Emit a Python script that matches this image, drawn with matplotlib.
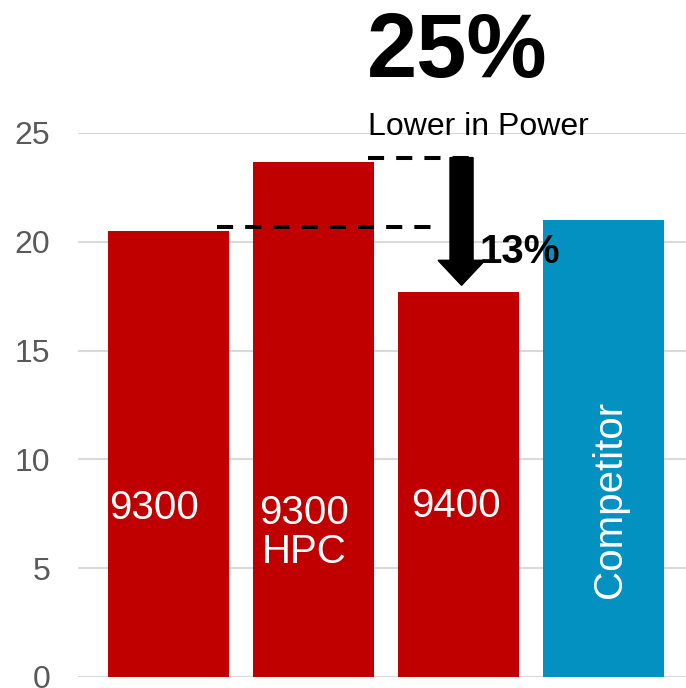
#Power comparison bar chart

#Importing the libraries
import numpy as np
import matplotlib
matplotlib.use('Agg')
import matplotlib.pyplot as plt

plt.rcParams['font.family'] = ['Liberation Sans', 'DejaVu Sans']

#Data
names = ['9300', '9300\nHPC', '9400', 'Competitor']
power = [20.5, 23.67, 17.7, 21.0]
colors = ['#c00000', '#c00000', '#c00000', '#0391c1']
label_y = [7.75, 6.65, 7.85, 8.15]
label_dx = [-0.10, -0.066, -0.017, 0.045]
label_rot = [0, 0, 0, 90]
yticks = [0, 5, 10, 15, 20, 25]

fig = plt.figure(figsize=(6.86, 6.88), dpi=100)
ax = fig.add_axes([78/686, 11/688, 608/686, 544/688])

x = np.arange(len(names))
ax.bar(x, power, width=0.834, color=colors, zorder=2)

#Labels inside the bars
for i in range(len(names)):
    ax.text(x[i] + label_dx[i], label_y[i], names[i], color='white', fontsize=29,
            ha='center', va='center', rotation=label_rot[i], linespacing=1.05, zorder=3)

ax.set_xlim(-0.624, 3.569)
ax.set_ylim(0, 25)
ax.set_yticks(yticks)
ax.set_xticks([])
ax.tick_params(axis='y', length=0, pad=20, labelsize=23, labelcolor='#595959')
ax.grid(axis='y', color='#d9d9d9', linewidth=1.5, zorder=0)
for s in ax.spines.values():
    s.set_visible(False)

#Dashed reference lines and arrow
ax.hlines(power[1] + 0.2, 1.376, 2.1, colors='black', linestyles=(0, (4, 3)), linewidth=2.9, zorder=4)
ax.hlines(power[0] + 0.17, 0.334, 1.852, colors='black', linestyles=(0, (4, 3)), linewidth=2.9, zorder=4)
ax.arrow(2.021, power[1] + 0.2, 0, power[2] + 0.3 - power[1] - 0.2, width=0.159, head_width=0.324,
         head_length=1.15, length_includes_head=True, color='black', zorder=5)

ax.text(2.148, 19.03, '13%', fontsize=29, fontweight='bold', ha='left', va='baseline', zorder=6)
ax.text(1.378, 24.91, 'Lower in Power', fontsize=23, ha='left', va='baseline', clip_on=False)
ax.text(1.37, 27.57, '25%', fontsize=65, fontweight='bold', ha='left', va='baseline', clip_on=False)

plt.savefig('out.png', dpi=100)
